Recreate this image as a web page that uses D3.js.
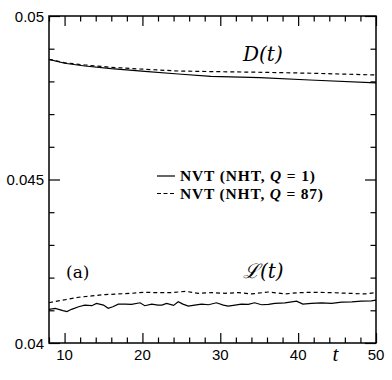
<!DOCTYPE html>
<html>
<head>
<meta charset="utf-8">
<script src="https://cdn.jsdelivr.net/npm/d3@7"></script>
<style>
  body { margin: 0; background: #fff; }
  svg { display: block; }
</style>
</head>
<body>
<svg id="chart" width="392" height="380"></svg>
<script>
// D(t) curves
var dSolidT = [8, 10, 12.6, 16, 20.3, 24.6, 28.8, 35.1, 41.5, 50];
var dSolid = [0.048676, 0.048554, 0.048471, 0.048388, 0.048309, 0.048226, 0.048156, 0.048113, 0.048043, 0.047957];
var dDashT = [8, 10, 12.6, 16, 20.3, 24.6, 28.8, 35.5, 42, 50];
var dDash = [0.048676, 0.048572, 0.048502, 0.048431, 0.04837, 0.048318, 0.048300, 0.048278, 0.048248, 0.048196];

// L(t) curves (noisy)
var lSolidT = [8.0, 8.8, 9.8, 10.3, 10.9, 11.8, 12.6, 13.5, 14.1, 15.0, 15.6, 16.2, 16.9, 17.8, 18.6, 19.7,
  20.3, 21.2, 22.0, 22.5, 23.1, 24.0, 24.6, 25.2, 25.9, 26.7, 27.6, 28.5, 29.5, 30.4, 31.0, 31.9, 32.7,
  33.6, 34.4, 35.3, 36.2, 37.0, 38.3, 39.8, 40.6, 41.7, 43.0, 44.3, 45.6, 46.9, 48.1, 49.4, 50];
var lSolid = [0.04103, 0.04106, 0.04099, 0.04096, 0.04103, 0.04111, 0.04116, 0.04114, 0.04121, 0.04116,
  0.04106, 0.04111, 0.04119, 0.04119, 0.04118, 0.04123, 0.04114, 0.04119, 0.04116, 0.04116, 0.04121,
  0.04115, 0.04126, 0.04119, 0.04113, 0.04116, 0.04119, 0.04117, 0.04123, 0.04116, 0.04113, 0.04116,
  0.04119, 0.04118, 0.04123, 0.04117, 0.04118, 0.04121, 0.04123, 0.04128, 0.04119, 0.04121, 0.04123,
  0.04121, 0.04125, 0.04126, 0.04128, 0.04129, 0.04131];
var lDashT = [8.0, 9.2, 10.5, 11.8, 13.5, 15.2, 16.9, 18.6, 20.3, 22.0, 23.8, 25.5, 27.2, 28.9, 30.6, 32.3,
  34.0, 36.2, 38.3, 40.0, 42.1, 44.3, 46.4, 48.6, 50];
var lDash = [0.04123, 0.04129, 0.04134, 0.0414, 0.04144, 0.04148, 0.0415, 0.04152, 0.04155, 0.04154,
  0.04154, 0.04158, 0.04152, 0.04154, 0.04152, 0.04154, 0.0415, 0.04156, 0.0415, 0.04154, 0.04155,
  0.04154, 0.04152, 0.0415, 0.04154];

var xMajor = [10, 20, 30, 40, 50];
var xMinor = [8, 12, 14, 16, 18, 22, 24, 26, 28, 32, 34, 36, 38, 42, 44, 46, 48];
var yMajor = [0.04, 0.045, 0.05];
var yMajorLabels = ["0.04", "0.045", "0.05"];
var yMinor = [0.041, 0.042, 0.043, 0.044, 0.046, 0.047, 0.048, 0.049];

var legendLabels = ["NVT (NHT, ", "NVT (NHT, "];
var legendQ = ["1", "87"];

var svg = d3.select("#chart");
var m = {l: 49, t: 16, r: 16, b: 37};
var W = 392 - m.l - m.r, H = 380 - m.t - m.b;

var x = d3.scaleLinear().domain([8, 50]).range([0, W]);
var y = d3.scaleLinear().domain([0.04, 0.05]).range([H, 0]);

var g = svg.append("g").attr("transform", "translate(" + m.l + "," + m.t + ")");

// ticks on all four sides, pointing inward
function tickAxis(axisFn, scale, vals, size, tr) {
  var a = g.append("g").attr("transform", tr)
    .call(axisFn(scale).tickValues(vals).tickSize(size).tickFormat(""));
  a.select(".domain").remove();
  a.selectAll("line").attr("stroke", "#000").attr("stroke-width", 1.2);
}
tickAxis(d3.axisBottom, x, xMajor, -10, "translate(0," + H + ")");
tickAxis(d3.axisBottom, x, xMinor, -5.5, "translate(0," + H + ")");
tickAxis(d3.axisTop, x, xMajor, -10, "translate(0,0)");
tickAxis(d3.axisTop, x, xMinor, -5.5, "translate(0,0)");
tickAxis(d3.axisLeft, y, yMajor, -11, "translate(0,0)");
tickAxis(d3.axisLeft, y, yMinor, -5.5, "translate(0,0)");
tickAxis(d3.axisRight, y, yMajor, -11, "translate(" + W + ",0)");
tickAxis(d3.axisRight, y, yMinor, -5.5, "translate(" + W + ",0)");

g.append("rect").attr("width", W).attr("height", H)
  .attr("fill", "none").attr("stroke", "#000").attr("stroke-width", 1.5);

// tick labels
g.selectAll(".xl").data(xMajor).enter().append("text")
  .attr("x", d => x(d)).attr("y", H + 17)
  .attr("text-anchor", "middle")
  .style("font", "15px 'Liberation Sans', Arial, sans-serif")
  .text(d => d);
g.selectAll(".yl").data(yMajor).enter().append("text")
  .attr("x", -5).attr("y", d => y(d) + 5.5)
  .attr("text-anchor", "end")
  .style("font", "15px 'Liberation Sans', Arial, sans-serif")
  .text((d, i) => yMajorLabels[i]);

g.append("text").attr("x", x(44.4)).attr("y", H + 18)
  .style("font", "italic 21px 'Liberation Serif', serif")
  .text("t");

// curves
var line = d3.line().x(d => x(d[0])).y(d => y(d[1]));
function curve(ts, vs, dashed) {
  g.append("path").datum(d3.zip(ts, vs))
    .attr("fill", "none").attr("stroke", "#000")
    .attr("stroke-width", 1.2)
    .attr("stroke-dasharray", dashed ? "4,3" : null)
    .attr("d", line);
}
curve(dSolidT, dSolid, false);
curve(dDashT, dDash, true);
curve(lSolidT, lSolid, false);
curve(lDashT, lDash, true);

// annotations
g.append("text").attr("x", 194).attr("y", 45)
  .style("font", "italic 20px 'DejaVu Serif', serif")
  .text("D(t)");
g.append("text").attr("x", 194).attr("y", 262)
  .style("font", "italic 20px 'DejaVu Serif', serif")
  .text("\u2112(t)");
g.append("text").attr("x", 17).attr("y", 262)
  .style("font", "17px 'DejaVu Serif', serif")
  .text("(a)");

// legend
var leg = g.selectAll(".leg").data(legendQ).enter().append("g")
  .attr("transform", (d, i) => "translate(108," + (160 + i * 17.5) + ")");
leg.append("line").attr("x1", 0).attr("x2", 18)
  .attr("stroke", "#000").attr("stroke-width", 1.2)
  .attr("stroke-dasharray", (d, i) => i ? "4,2.5" : null);
var lt = leg.append("text").attr("x", 23).attr("y", 5)
  .attr("textLength", (d, i) => i ? 143 : 135)
  .attr("lengthAdjust", "spacing")
  .style("font", "bold 15.5px 'Liberation Serif', serif");
lt.append("tspan").text((d, i) => legendLabels[i]);
lt.append("tspan").style("font-style", "italic").text("Q");
lt.append("tspan").text(d => " = " + d + ")");
</script>
</body>
</html>
